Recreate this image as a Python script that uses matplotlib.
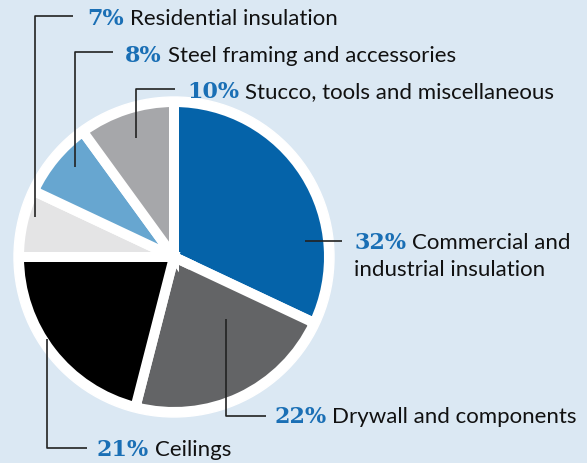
import matplotlib.pyplot as plt
from matplotlib.patches import Circle

# shares of the market, clockwise from 12 o'clock
shares = [32, 22, 21, 7, 8, 10]
labels = ['Commercial and\nindustrial insulation', 'Drywall and components', 'Ceilings',
          'Residential insulation', 'Steel framing and accessories',
          'Stucco, tools and miscellaneous']
colors = ['#0563a9', '#636466', '#000000', '#e4e4e5', '#67a6d0', '#a6a7aa']

bg = '#dbe8f3'
pct_blue = '#1a6fb5'
W, H = 587, 464

fig = plt.figure(figsize=(W / 100, H / 100), dpi=100, facecolor=bg)
ax = fig.add_axes([0, 0, 1, 1])

cx, cy = 174, H - 258
ax.add_patch(Circle((cx, cy), 160, color='white', zorder=1))
wedges, _ = ax.pie(shares, colors=colors, startangle=90, counterclock=False,
                   center=(cx, cy), radius=155, frame=True,
                   wedgeprops=dict(edgecolor='white', linewidth=7.2))
for w in wedges:
    w.set_zorder(2)
ax.set_xlim(0, W)
ax.set_ylim(0, H)
ax.set_aspect('equal')
ax.axis('off')

# leader lines (image pixel coords, y down), then text anchor x and baseline y
leaders = [
    ([305, 342], [242, 242], 354, 249),
    ([226, 226, 266], [320, 417, 417], 274, 423),
    ([47, 47, 87], [340, 449, 449], 97, 456),
    ([35, 35, 73], [218, 17, 17], 87, 25),
    ([75, 75, 113], [168, 53, 53], 125, 62),
    ([136, 136, 175], [139, 90, 90], 187, 98),
]

fig.canvas.draw()
rend = fig.canvas.get_renderer()
inv = ax.transData.inverted()
for share, label, (lx, ly, tx, ty) in zip(shares, labels, leaders):
    ax.plot(lx, [H - v for v in ly], color='#222222', lw=1.2, zorder=3,
            solid_capstyle='butt')
    p = ax.text(tx, H - ty, f'{share}%', color=pct_blue, fontsize=16,
                family='DejaVu Serif', weight='bold', va='baseline', ha='left')
    bb = p.get_window_extent(renderer=rend)
    x_end = inv.transform((bb.x1, bb.y0))[0]
    lines = label.split('\n')
    ax.text(x_end + 6, H - ty, lines[0], color='#111111', fontsize=16,
            family='Lato', va='baseline', ha='left')
    if len(lines) > 1:
        ax.text(tx, H - ty - 27, lines[1], color='#111111', fontsize=16,
                family='Lato', va='baseline', ha='left')

fig.savefig('out.png', dpi=100, facecolor=bg)
